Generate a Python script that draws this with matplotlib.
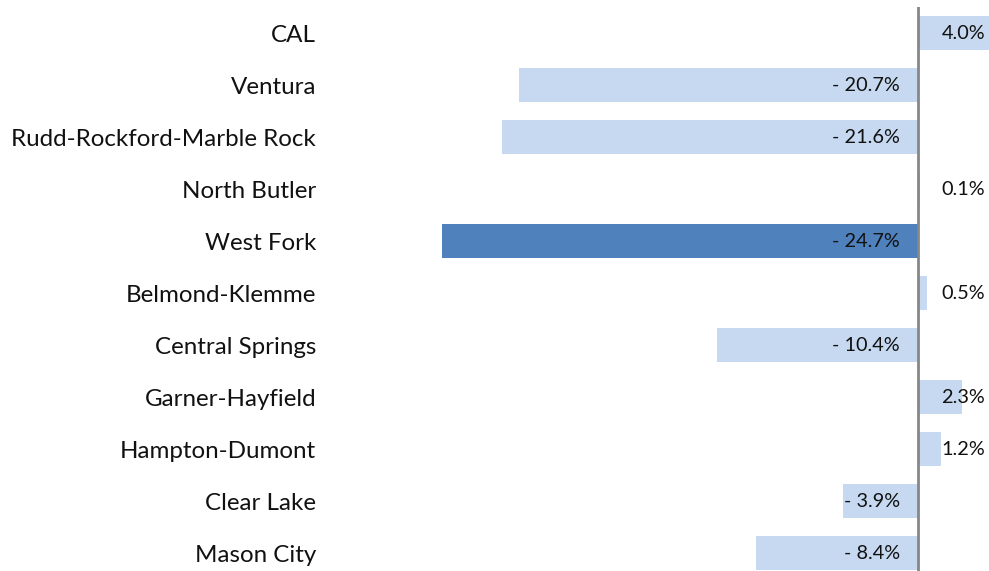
import numpy as np
import matplotlib.pyplot as plt

plt.rcParams['font.family'] = ['Lato', 'DejaVu Sans']

districts = ['CAL', 'Ventura', 'Rudd-Rockford-Marble Rock', 'North Butler', 'West Fork',
             'Belmond-Klemme', 'Central Springs', 'Garner-Hayfield', 'Hampton-Dumont',
             'Clear Lake', 'Mason City']
change = [4.0, -20.7, -21.6, 0.1, -24.7, 0.5, -10.4, 2.3, 1.2, -3.9, -8.4]
highlight = 'West Fork'

light = '#C6D9F0'
dark = '#4F81BD'

fig = plt.figure(figsize=(9.89, 5.71), dpi=100)
ax = fig.add_axes([330 / 989, 0, 659 / 989, 564 / 571])

y = np.arange(len(districts))
colors = [dark if d == highlight else light for d in districts]
ax.barh(y, change, height=0.67, color=colors)
ax.axvline(0, color='#868686', lw=2)

for yi, v in zip(y, change):
    if v < 0:
        ax.text(-0.92, yi, '- %.1f%%' % abs(v), ha='right', va='center', fontsize=14.3, color='#111111')
    else:
        ax.text(3.49, yi, '%.1f%%' % v, ha='right', va='center', fontsize=14.3, color='#111111')

ax.set_yticks(y)
ax.set_yticklabels(districts, fontsize=17.4, color='#111111')
ax.tick_params(axis='y', length=0, pad=10)
ax.set_xticks([])
ax.set_xlim(-30.51, 3.70)
ax.set_ylim(10.346, -0.5)
for s in ax.spines.values():
    s.set_visible(False)

fig.savefig('out.png', dpi=100)
